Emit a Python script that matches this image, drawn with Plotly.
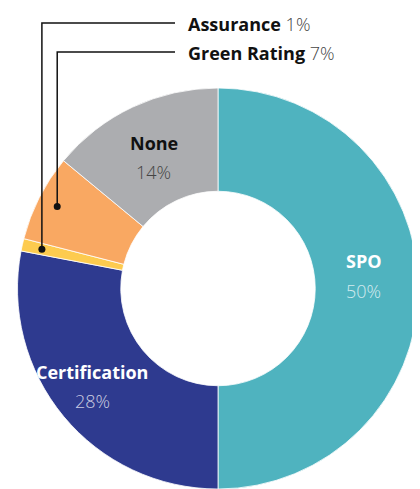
import math
import plotly.graph_objects as go

labels = ["SPO", "Certification", "Assurance", "Green Rating", "None"]
values = [50, 28, 1, 7, 14]
colors = ["#4FB3BF", "#2E3A8F", "#FDCB4F", "#F9A862", "#ACADB0"]
inside = ["SPO", "Certification", "None"]
outside = ["Assurance", "Green Rating"]

# page has an 8px body margin, so the figure is drawn a bit smaller and shifted
OFF = 8
W, H = 420 - OFF, 489 - OFF
cx, cy, R = 218, 288.5, 200.5
hole = 0.485
FONT = "Open Sans"
# small hand offsets of the inside labels from the slice centre (px)
nudge = {"SPO": (-3, -13), "Certification": (-11, 3), "None": (-1, 3)}


def px(x, y):
    return (x - OFF) / W, 1 - (y - OFF) / H


def slice_point(i, r):
    total = sum(values)
    mid = sum(values[:i]) + values[i] / 2
    a = 2 * math.pi * mid / total
    return cx + r * math.sin(a), cy - r * math.cos(a)


x0d, y1d = px(cx - R, cy - R)
x1d, y0d = px(cx + R, cy + R)
fig = go.Figure(go.Pie(
    labels=labels,
    values=values,
    hole=hole,
    sort=False,
    direction="clockwise",
    rotation=0,
    marker=dict(colors=colors, line=dict(color="white", width=0.8)),
    textinfo="none",
    showlegend=False,
    domain=dict(x=[x0d, x1d], y=[max(0, y0d), y1d]),
))

# labels inside the ring
r_mid = R * (1 + hole) / 2
for name in inside:
    i = labels.index(name)
    x, y = slice_point(i, r_mid)
    x += nudge[name][0]
    y += nudge[name][1]
    dark = name == "None"
    c1 = "#111111" if dark else "white"
    c2 = "#444444" if dark else "rgba(255,255,255,0.75)"
    xp, yp = px(x, y - 14)
    fig.add_annotation(x=xp, y=yp, xref="paper", yref="paper", text="<b>%s</b>" % name,
                       showarrow=False, font=dict(family=FONT, size=18, color=c1),
                       xanchor="center", yanchor="middle")
    xp, yp = px(x, y + 15)
    fig.add_annotation(x=xp, y=yp, xref="paper", yref="paper", text="%d%%" % values[i],
                       showarrow=False, font=dict(family=FONT, size=18, color=c2, weight=300),
                       xanchor="center", yanchor="middle")

# leader-line labels for the small slices
label_y = [23, 52]
for name, ly in zip(outside, label_y):
    i = labels.index(name)
    dx, dy = slice_point(i, R * 0.9)
    pts = [px(dx, dy), px(dx, ly), px(175, ly)]
    fig.add_shape(type="path", xref="paper", yref="paper",
                  path="M %f,%f L %f,%f L %f,%f" % (pts[0][0], pts[0][1], pts[1][0], pts[1][1], pts[2][0], pts[2][1]),
                  line=dict(color="#111111", width=1.5))
    a0, b0 = px(dx - 3.5, dy + 3.5)
    a1, b1 = px(dx + 3.5, dy - 3.5)
    fig.add_shape(type="circle", xref="paper", yref="paper", x0=a0, y0=b0, x1=a1, y1=b1,
                  fillcolor="#111111", line=dict(width=0))
    xp, yp = px(186, ly + 1)
    fig.add_annotation(x=xp, y=yp, xref="paper", yref="paper",
                       text="<b>%s</b> <span style='color:#444444;font-weight:300'>%d%%</span>" % (name, values[i]),
                       showarrow=False, font=dict(family=FONT, size=18, color="#111111"),
                       xanchor="left", yanchor="middle")

fig.update_layout(
    width=W, height=H,
    margin=dict(l=0, r=0, t=0, b=0),
    paper_bgcolor="white",
    plot_bgcolor="white",
)

fig.write_html("out.html")
